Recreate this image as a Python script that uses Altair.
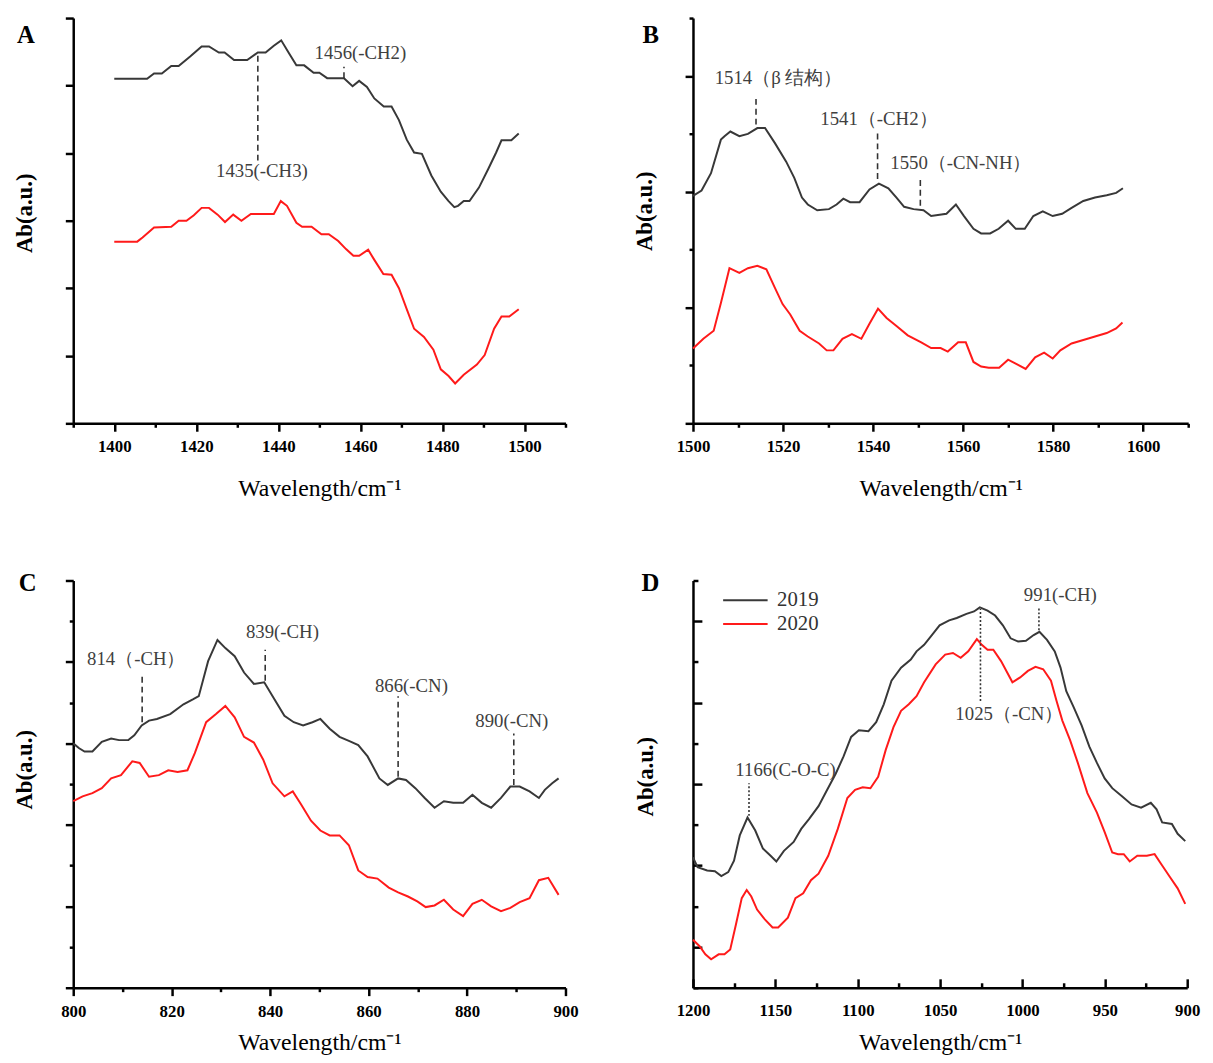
import altair as alt
import pandas as pd

BLACK = "#383838"
RED = "#ff1a1a"
ANN = "#333333"

# ---------------- Panel A ----------------
A_2019 = [(1400, 5.10), (1408, 5.10), (1409.7, 5.18), (1411.6, 5.18), (1413.9, 5.29), (1415.7, 5.29),
          (1418.5, 5.43), (1421.3, 5.58), (1423.1, 5.58), (1425.5, 5.49), (1426.9, 5.49), (1429.2, 5.38),
          (1432.4, 5.38), (1435, 5.49), (1436.9, 5.49), (1438.9, 5.59), (1440.7, 5.67), (1442.6, 5.48),
          (1444.4, 5.30), (1446.3, 5.30), (1448.6, 5.19), (1450, 5.19), (1451.9, 5.11), (1456, 5.11),
          (1458.1, 4.99), (1459.7, 5.07), (1461.6, 4.98), (1463.4, 4.81), (1465.7, 4.69), (1467.6, 4.69),
          (1469.4, 4.49), (1471.3, 4.20), (1473.1, 4.01), (1475, 3.99), (1477.3, 3.67), (1479.6, 3.43),
          (1481.5, 3.29), (1482.9, 3.20), (1483.8, 3.22), (1485.2, 3.29), (1486.6, 3.29), (1488.9, 3.49),
          (1491.2, 3.77), (1493.1, 4.01), (1494.4, 4.19), (1496.8, 4.19), (1498.6, 4.29)]
A_2020 = [(1400, 2.69), (1405.6, 2.69), (1406.9, 2.75), (1409.7, 2.90), (1413.9, 2.91), (1415.7, 3.00),
          (1417.6, 3.00), (1419.4, 3.08), (1421.3, 3.19), (1423.1, 3.19), (1425.2, 3.09), (1427, 2.98),
          (1429, 3.09), (1431, 3.00), (1433.3, 3.10), (1438.9, 3.10), (1440.6, 3.29), (1442.1, 3.22),
          (1444.4, 2.97), (1445.8, 2.91), (1448.1, 2.91), (1450.5, 2.80), (1452.3, 2.80), (1454.6, 2.70),
          (1456.5, 2.58), (1458.3, 2.48), (1459.7, 2.48), (1461.9, 2.57), (1463.4, 2.42), (1465.6, 2.21),
          (1467.6, 2.20), (1469.4, 2.00), (1471.3, 1.69), (1473.1, 1.40), (1475.5, 1.28), (1477.8, 1.09),
          (1479.6, 0.80), (1481.5, 0.70), (1483.1, 0.59), (1485.2, 0.72), (1488.4, 0.87), (1490.3, 1.01),
          (1492.6, 1.40), (1494.4, 1.58), (1496.3, 1.58), (1498.6, 1.69)]
A_marks = [(1435, 3.89, 5.49), (1456, 5.11, 5.28)]
A_labels = [(1436, 3.73, "1435(-CH3)"), (1460, 5.48, "1456(-CH2)")]

# ---------------- Panel B ----------------
B_2019 = [(1500, 1.965), (1501.9, 2.01), (1504, 2.16), (1506.2, 2.45), (1507, 2.48), (1508.3, 2.52),
          (1510.3, 2.48), (1512.2, 2.50), (1514.3, 2.55), (1516, 2.55), (1518.2, 2.42), (1520.7, 2.26),
          (1522.5, 2.12), (1524.2, 1.95), (1525.5, 1.89), (1527.6, 1.84), (1530.2, 1.85), (1531.9, 1.89),
          (1533.4, 1.94), (1534.9, 1.91), (1537, 1.91), (1539.2, 2.02), (1541.3, 2.07), (1543.4, 2.03),
          (1545.2, 1.95), (1546.9, 1.87), (1549, 1.85), (1551.2, 1.84), (1552.9, 1.79), (1556.3, 1.81),
          (1558.4, 1.89), (1560.2, 1.79), (1562.3, 1.68), (1564, 1.64), (1566, 1.64), (1567.9, 1.68),
          (1570, 1.75), (1571.7, 1.68), (1573.7, 1.68), (1575.6, 1.79), (1577.7, 1.83), (1579.9, 1.79),
          (1582, 1.81), (1584.1, 1.86), (1586.7, 1.92), (1589.3, 1.95), (1591.9, 1.97), (1594, 1.99),
          (1595.5, 2.03)]
B_2020 = [(1500, 0.646), (1502.3, 0.73), (1504.6, 0.80), (1506.2, 1.04), (1508.1, 1.34), (1510.3, 1.30),
          (1512.2, 1.34), (1514.3, 1.36), (1516.3, 1.33), (1518.2, 1.17), (1519.9, 1.03), (1521.6, 0.94),
          (1523.7, 0.80), (1525.5, 0.75), (1528, 0.69), (1529.7, 0.63), (1531.2, 0.63), (1533.2, 0.73),
          (1535.3, 0.77), (1537.4, 0.73), (1539.2, 0.86), (1541.1, 0.99), (1543, 0.91), (1545.2, 0.84),
          (1547.7, 0.76), (1550.7, 0.70), (1552.9, 0.65), (1555, 0.65), (1556.6, 0.62), (1558.9, 0.70),
          (1560.6, 0.70), (1562.3, 0.53), (1564, 0.49), (1565.7, 0.48), (1568, 0.48), (1570, 0.55),
          (1572, 0.51), (1573.9, 0.47), (1576, 0.57), (1578, 0.61), (1579.9, 0.56), (1581.6, 0.63),
          (1584.1, 0.69), (1586.7, 0.72), (1589.3, 0.75), (1591.9, 0.78), (1594, 0.82), (1595.4, 0.87)]
B_marks = [(1514, 2.58, 2.83), (1541, 2.11, 2.52), (1550.5, 1.88, 2.11)]
B_labels = [(1519, 2.98, "1514（β 结构）"), (1541.3, 2.63, "1541（-CH2）"), (1559.5, 2.25, "1550（-CN-NH）")]

# ---------------- Panel C ----------------
C_2019 = [(800, 3.00), (801.2, 2.94), (802.3, 2.90), (803.9, 2.90), (805.8, 3.02), (807.7, 3.06),
          (809.3, 3.04), (811.2, 3.04), (812.4, 3.10), (813.9, 3.22), (815.4, 3.28), (817, 3.30),
          (819.7, 3.36), (822.4, 3.48), (824.3, 3.54), (825.5, 3.58), (827.4, 4.01), (829.3, 4.27),
          (830.9, 4.17), (832.8, 4.07), (834.7, 3.87), (836.7, 3.73), (838.8, 3.75), (840.9, 3.54),
          (842.9, 3.34), (844.8, 3.26), (846.7, 3.22), (848.6, 3.26), (850.2, 3.30), (852.1, 3.18),
          (854.1, 3.08), (856, 3.03), (857.9, 2.98), (859.8, 2.84), (862.2, 2.57), (863.9, 2.49),
          (866, 2.57), (867.6, 2.55), (869.5, 2.45), (871.4, 2.33), (873.4, 2.21), (875.3, 2.29),
          (877.2, 2.27), (879.2, 2.27), (881.1, 2.37), (883, 2.27), (884.9, 2.21), (886.9, 2.33),
          (888.8, 2.47), (890.7, 2.47), (892.7, 2.41), (894.6, 2.33), (895.8, 2.43), (897.3, 2.51),
          (898.6, 2.57)]
C_2020 = [(800, 2.29), (801.9, 2.35), (803.9, 2.39), (805.8, 2.45), (807.7, 2.57), (809.7, 2.61),
          (812, 2.78), (813.5, 2.76), (815.4, 2.59), (817.4, 2.61), (819.3, 2.67), (821.2, 2.65),
          (823.2, 2.67), (824.7, 2.88), (827, 3.26), (829, 3.36), (830.9, 3.46), (832.8, 3.32),
          (834.7, 3.08), (836.7, 3.01), (838.6, 2.80), (840.5, 2.51), (842.9, 2.35), (844.6, 2.41),
          (846.3, 2.25), (848.3, 2.05), (850.2, 1.93), (852.1, 1.87), (854.1, 1.87), (856, 1.75),
          (857.9, 1.44), (859.8, 1.36), (861.8, 1.34), (864.1, 1.23), (866, 1.17), (868, 1.12),
          (869.9, 1.06), (871.6, 0.99), (873.4, 1.01), (875.3, 1.08), (877.2, 0.96), (879.2, 0.88),
          (881.1, 1.03), (883, 1.08), (884.9, 1.00), (886.9, 0.94), (888.8, 0.98), (890.7, 1.05),
          (892.7, 1.10), (894.6, 1.32), (896.5, 1.35), (898.6, 1.14)]
C_marks = [(814, 3.26, 3.85), (839, 3.77, 4.15), (866, 2.59, 3.58), (889.5, 2.49, 3.12)]
C_labels = [(812.8, 4.03, "814（-CH）"), (842.5, 4.37, "839(-CH)"), (868.7, 3.70, "866(-CN)"),
            (889.1, 3.28, "890(-CN)")]

# ---------------- Panel D ----------------
D_2019 = [(1200, 1.60), (1197.2, 1.48), (1191.4, 1.44), (1186.7, 1.43), (1182.8, 1.37), (1178.6, 1.42),
          (1175.1, 1.56), (1171.6, 1.87), (1166.9, 2.09), (1162.2, 1.93), (1157.6, 1.71), (1152.9, 1.62),
          (1149.4, 1.55), (1144.8, 1.68), (1138.9, 1.79), (1134.3, 1.95), (1129.6, 2.07), (1123.8, 2.23),
          (1119.1, 2.41), (1113.3, 2.63), (1108.6, 2.84), (1104, 3.08), (1099.3, 3.16), (1093.5, 3.15),
          (1088.8, 3.26), (1084.2, 3.48), (1079.5, 3.77), (1073.7, 3.93), (1067.8, 4.03), (1064.3, 4.13),
          (1059.7, 4.21), (1055, 4.33), (1050.3, 4.45), (1044.5, 4.51), (1039.9, 4.54), (1034, 4.59),
          (1029.4, 4.62), (1025.9, 4.67), (1021.2, 4.63), (1016.6, 4.57), (1011.9, 4.45), (1007.2, 4.29),
          (1002.6, 4.25), (997.9, 4.26), (993.2, 4.33), (989.7, 4.37), (985.1, 4.27), (980.4, 4.13),
          (976.9, 3.93), (973.4, 3.64), (968.8, 3.44), (964.1, 3.22), (959.4, 2.96), (954.8, 2.76),
          (950.1, 2.57), (945.5, 2.45), (939.6, 2.35), (933.8, 2.25), (928, 2.21), (922.1, 2.27),
          (918.6, 2.19), (915.2, 2.03), (909.3, 2.01), (905.8, 1.89), (901.2, 1.80)]
D_2020 = [(1200, 0.59), (1196, 0.51), (1192.5, 0.41), (1189, 0.35), (1184.4, 0.41), (1180.9, 0.41),
          (1177.4, 0.47), (1173.9, 0.78), (1170.4, 1.10), (1167.4, 1.20), (1164.6, 1.12), (1161.1, 0.96),
          (1156.4, 0.84), (1151.7, 0.74), (1148.3, 0.74), (1142.4, 0.86), (1137.8, 1.10), (1133.1, 1.16),
          (1128.4, 1.32), (1123.8, 1.40), (1117.9, 1.62), (1112.1, 1.95), (1106.3, 2.33), (1101.6, 2.43),
          (1097, 2.46), (1092.3, 2.45), (1087.6, 2.59), (1083, 2.92), (1078.3, 3.20), (1073.7, 3.40),
          (1069, 3.48), (1064.3, 3.58), (1059.7, 3.75), (1052.7, 3.97), (1046.9, 4.09), (1042.2, 4.11),
          (1037.5, 4.05), (1032.9, 4.13), (1027.7, 4.28), (1024.7, 4.21), (1021.2, 4.15), (1017.7, 4.15),
          (1013, 4.01), (1006.1, 3.75), (1001.4, 3.81), (996.7, 3.89), (992.1, 3.94), (987.4, 3.91),
          (982.7, 3.77), (979.3, 3.52), (975.8, 3.28), (971.1, 3.04), (966.4, 2.76), (960.6, 2.39),
          (954.8, 2.15), (950.1, 1.91), (945.5, 1.66), (942, 1.64), (938.5, 1.64), (934.9, 1.55),
          (930.3, 1.62), (924.5, 1.62), (919.8, 1.64), (915.2, 1.50), (910.5, 1.36), (905.8, 1.22),
          (901.2, 1.03)]
D_marks = [(1166, 2.11, 2.51), (1025.5, 3.52, 4.65), (990, 4.39, 4.67)]
D_labels = [(1143.8, 2.67, "1166(C-O-C)"), (1008, 3.36, "1025（-CN）"), (977, 4.82, "991(-CH)")]

YEARS = ["2019", "2020"]
X_TITLE = "Wavelength/cm⁻¹"
Y_TITLE = "Ab(a.u.)"


def panel(letter, s19, s20, marks, labels, xdom, xstep, xmajor, ydom, ymajor, size, letter_pos,
          title_y, x_title_pad, reverse=False, inward=False, dash=(6, 4), legend=None):
    df = pd.DataFrame([(x, y, YEARS[0]) for x, y in s19] + [(x, y, YEARS[1]) for x, y in s20],
                      columns=["wn", "ab", "year"])
    mdf = pd.DataFrame(marks, columns=["wn", "ab", "ab2"])
    ldf = pd.DataFrame(labels, columns=["wn", "ab", "t"])
    lo, hi = xdom
    xvals = list(range(lo, hi + 1, xstep))
    yvals = [i * 0.5 for i in range(int(round(ydom[1] * 2)) + 1)]
    xtest = f"datum.value % {xmajor} === 0"
    ytest = "datum.value % 1 === 0" if ymajor == "int" else "datum.value % 1 === 0.5"
    if inward:
        xt = {"expr": f"{xtest} ? -9 : -5"}
        yt = {"expr": f"{ytest} ? -9 : -5"}
        lpad, ytp = 24, 35
    else:
        xt = {"condition": {"test": xtest, "value": 8}, "value": 4}
        yt = {"condition": {"test": ytest, "value": 8}, "value": 4}
        lpad, ytp = 8, 28
    xscale = alt.Scale(domain=[lo, hi], nice=False, zero=False, reverse=reverse)
    yscale = alt.Scale(domain=list(ydom), nice=False, zero=False)
    xaxis = alt.Axis(values=xvals, format="d", labelExpr=f"{xtest} ? datum.label : ''",
                     tickSize=xt, title=X_TITLE, labelPadding=lpad, labelOverlap=False,
                     labelFlush=False, titlePadding=x_title_pad)
    yaxis = alt.Axis(values=yvals, labels=False, tickSize=yt, title=Y_TITLE, titlePadding=ytp,
                     titleY=title_y)
    color = alt.Color("year:N", scale=alt.Scale(domain=YEARS, range=[BLACK, RED]), legend=legend)

    lines = alt.Chart(df).mark_line(strokeWidth=2).encode(
        x=alt.X("wn:Q", scale=xscale, axis=xaxis),
        y=alt.Y("ab:Q", scale=yscale, axis=yaxis),
        color=color,
    )
    rules = alt.Chart(mdf).mark_rule(strokeDash=list(dash), strokeWidth=1.6, color=ANN).encode(
        x="wn:Q", y="ab:Q", y2="ab2:Q")
    texts = alt.Chart(ldf).mark_text(font="Liberation Serif", fontSize=19, color="#404040",
                                     align="center", baseline="middle").encode(
        x="wn:Q", y="ab:Q", text="t:N")
    let = alt.Chart(pd.DataFrame({"t": [letter]})).mark_text(
        font="Liberation Serif", fontWeight="bold", fontSize=25, color="black",
        align="left", baseline="alphabetic").encode(
        x=alt.value(letter_pos[0]), y=alt.value(letter_pos[1]), text="t:N")
    return alt.layer(lines, rules, texts, let).properties(width=size[0], height=size[1])


legend_d = alt.Legend(orient="none", legendX=42.5, legendY=9.5, title=None,
                      symbolType="M-4.5,0H4.5", symbolSize=100, symbolStrokeWidth=2,
                      labelFont="Liberation Serif", labelFontSize=21, labelColor="#333333",
                      labelOffset=21.5, rowPadding=2, padding=0)

pA = panel("A", A_2019, A_2020, A_marks, A_labels, (1390, 1510), 10, 20, (0, 6), "int",
           (498, 410), (-57, 25), 197, 22)
pB = panel("B", B_2019, B_2020, B_marks, B_labels, (1500, 1610), 10, 20, (0, 3.5), "int",
           (501, 410), (-51, 25), 195, 22)
pC = panel("C", C_2019, C_2020, C_marks, C_labels, (800, 900), 10, 20, (0, 5), "int",
           (498, 412), (-55, 11), 191, 12)
pD = panel("D", D_2019, D_2020, D_marks, D_labels, (900, 1200), 25, 50, (0, 5), "half",
           (500, 412), (-52, 11), 198, 9, reverse=True, inward=True, dash=(2, 2), legend=legend_d)

row1 = alt.hconcat(pA, pB, spacing=66).resolve_scale(color="independent")
row2 = alt.hconcat(pC, pD, spacing=56).resolve_scale(color="independent")

chart = alt.vconcat(row1, row2, spacing=72).resolve_scale(color="independent").configure_view(
    stroke=None
).configure_axis(
    grid=False, domainColor="black", domainWidth=2.5, tickColor="black", tickWidth=2.5,
    labelFont="Liberation Serif", labelFontSize=17, labelFontWeight="bold", labelColor="black",
    titleFont="Liberation Serif", titleColor="black",
).configure_axisX(
    titleFontSize=24, titleFontWeight="normal",
).configure_axisY(
    titleFontSize=23, titleFontWeight="bold",
).properties(padding={"left": 5, "top": 2, "right": 5, "bottom": 5})

chart.save("out.html", embed_options={"renderer": "svg", "actions": False})
